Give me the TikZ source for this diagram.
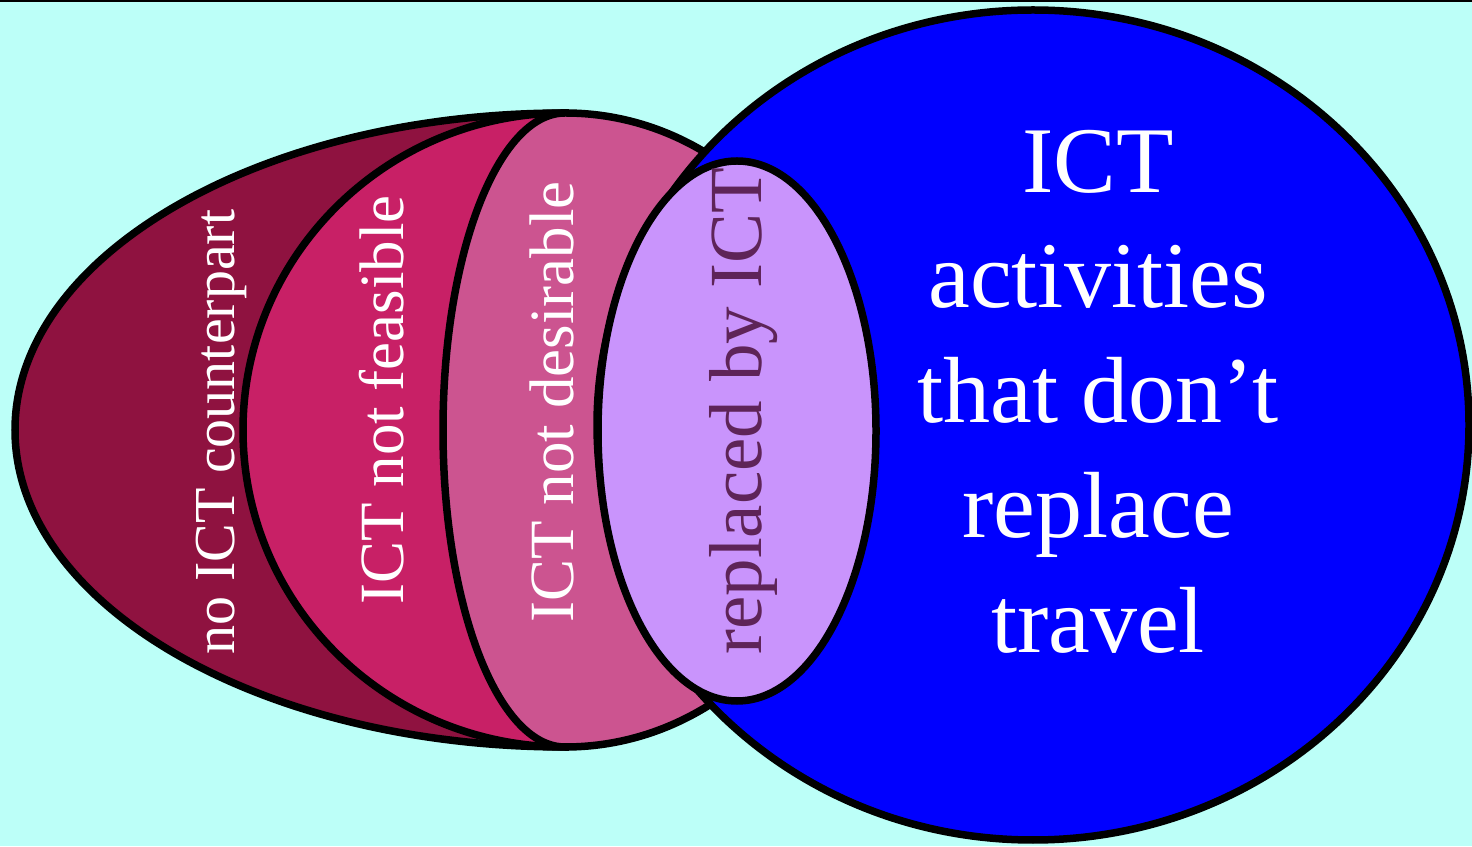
\documentclass[tikz,border=0pt]{standalone}
\usepackage{fontspec}
\setmainfont{Liberation Serif}
\usetikzlibrary{positioning}
\definecolor{ictbg}{RGB}{188,255,248}
\definecolor{ictmaroon}{RGB}{143,18,64}
\definecolor{ictcrimson}{RGB}{200,32,102}
\definecolor{ictpink}{RGB}{204,84,144}
\definecolor{ictlilac}{RGB}{201,148,252}
\definecolor{ictblue}{RGB}{0,0,255}
\definecolor{ictpurple}{RGB}{94,36,88}
\tikzstyle{region} = [draw=black, line width=7.5pt]
\tikzstyle{sidelabel} = [rotate=90, inner sep=0pt, text height=0.7em, text depth=0.22em, text=white]

\begin{document}
\begin{tikzpicture}[x=1pt, y=1pt]
\useasboundingbox (0,0) rectangle (1472,846);
\fill[ictbg] (0,0) rectangle (1472,846);
\draw[line width=3pt] (0,845) -- (1472,845);

% Left egg, made of half ellipses
\draw[region, fill=ictmaroon] (565,733) arc[start angle=90, end angle=270, x radius=550, y radius=317] -- cycle;
\draw[region, fill=ictcrimson] (565,733) arc[start angle=90, end angle=270, x radius=322, y radius=317] -- cycle;
\draw[region, fill=ictpink] (565,733) arc[start angle=90, end angle=270, x radius=122, y radius=317]
  arc[start angle=270, end angle=450, x radius=290, y radius=317] -- cycle;

% Travel circle and overlap
\draw[region, fill=ictblue] (1033,421) ellipse[x radius=436, y radius=415];
\draw[region, fill=ictlilac] (737,415) ellipse[x radius=139, y radius=270];

\node (counterpart) [sidelabel, font=\fontsize{58}{70}\selectfont] at (232,414) {no ICT counterpart};
\node (feasible) [sidelabel, font=\fontsize{63}{75}\selectfont] at (401,446) {ICT not feasible};
\node (desirable) [sidelabel, font=\fontsize{63}{75}\selectfont] at (571,444) {ICT not desirable};
\node (replaced) [sidelabel, font=\fontsize{75}{87}\selectfont, text=ictpurple] at (759,435) {replaced by ICT};

\node (activities) [align=center, inner sep=0pt, text=white, font=\fontsize{94}{115}\selectfont] at (1098,454)
  {ICT\\activities\\that don’t\\replace\\travel};
\end{tikzpicture}
\end{document}
